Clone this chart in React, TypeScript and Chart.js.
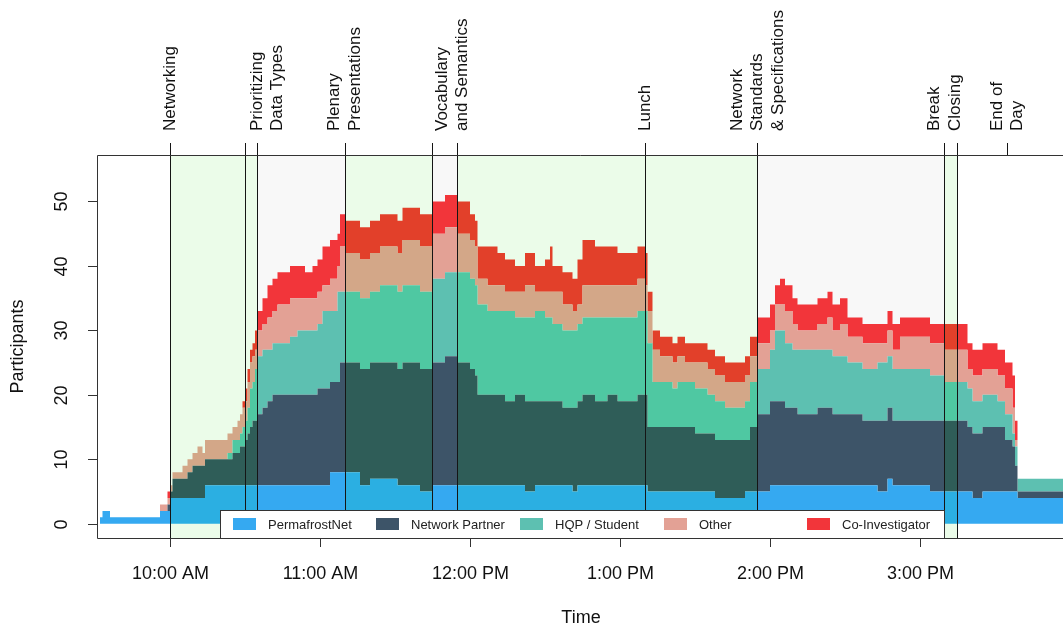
import { useEffect, useRef } from "react";
import { Chart, registerables } from "chart.js";

Chart.register(...registerables);

// Minutes since midnight at which attendance changed
const times = [
  572, 573, 576, 596, 599, 600, 601, 605, 607, 609, 611, 613, 614,
  623, 625, 627, 628, 629, 630, 631, 632, 633, 634, 635, 637, 639,
  641, 643, 648, 651, 654, 657, 659, 661, 664, 667, 668, 670, 676,
  680, 684, 691, 693, 700, 705, 710, 715, 720, 722, 723, 727, 731,
  734, 738, 742, 746, 750, 752, 753, 757, 761, 763, 765, 770, 775,
  779, 787, 790, 791, 793, 796, 801, 803, 806, 810, 815, 818, 822,
  830, 832, 835, 840, 842, 844, 846, 849, 851, 859, 863, 865, 868,
  871, 877, 883, 887, 889, 892, 904, 910, 915, 919, 921, 925, 931,
  934, 937, 938, 939, 958,
];

const permafrostNet = [
  1, 2, 1, 2, 2, 4, 4, 4, 4, 4, 4, 4, 6,
  6, 6, 6, 6, 6, 6, 6, 6, 6, 6, 6, 6, 6,
  6, 6, 6, 6, 6, 6, 6, 6, 8, 8, 8, 8, 6,
  7, 7, 6, 6, 5, 6, 6, 6, 6, 6, 6, 6, 6,
  6, 6, 5, 6, 6, 6, 6, 6, 5, 6, 6, 6, 6,
  6, 6, 6, 5, 5, 5, 5, 5, 5, 5, 5, 4, 4,
  5, 5, 5, 6, 6, 6, 6, 6, 6, 6, 6, 6, 6,
  6, 6, 5, 7, 6, 6, 5, 5, 5, 5, 4, 5, 5,
  5, 5, 5, 4, 4,
];

const networkPartner = [
  0, 0, 0, 0, 1, 1, 3, 3, 4, 5, 5, 5, 4,
  4, 5, 5, 6, 6, 7, 8, 9, 10, 10, 11, 12, 13,
  14, 14, 14, 14, 14, 14, 15, 15, 14, 14, 17, 17, 18,
  18, 18, 18, 19, 19, 19, 20, 19, 18, 17, 14, 14, 14,
  13, 14, 14, 13, 13, 13, 13, 12, 13, 13, 14, 13, 14,
  13, 14, 14, 10, 10, 10, 10, 10, 10, 9, 9, 9, 9,
  8, 10, 12, 13, 13, 13, 12, 12, 11, 12, 12, 11, 11,
  11, 10, 11, 11, 10, 10, 11, 11, 11, 10, 10, 10, 10,
  8, 7, 4, 1, 1,
];

const hqpStudent = [
  0, 0, 0, 0, 0, 0, 0, 0, 0, 0, 0, 0, 0,
  1, 2, 2, 2, 3, 3, 4, 6, 6, 8, 9, 9, 8,
  8, 8, 9, 10, 10, 10, 10, 12, 11, 14, 11, 11, 11,
  11, 12, 12, 12, 12, 13, 13, 14, 14, 14, 14, 13, 13,
  14, 12, 13, 14, 13, 13, 12, 12, 12, 12, 12, 13, 12,
  13, 13, 13, 13, 7, 7, 6, 7, 7, 7, 6, 6, 5,
  6, 7, 7, 8, 11, 11, 10, 9, 10, 9, 9, 9, 9,
  8, 8, 9, 8, 8, 8, 7, 6, 6, 6, 5, 5, 4,
  4, 2, 3, 2, 2,
];

const other = [
  0, 0, 0, 1, 1, 1, 1, 2, 2, 2, 3, 2, 3,
  3, 2, 3, 3, 3, 3, 4, 4, 4, 3, 4, 4, 5,
  5, 6, 6, 5, 5, 5, 5, 4, 5, 4, 7, 6, 6,
  6, 6, 6, 7, 7, 7, 7, 6, 6, 6, 4, 4, 4,
  3, 4, 5, 3, 4, 4, 5, 4, 3, 3, 5, 5, 5,
  5, 5, 4, 5, 5, 4, 4, 4, 3, 4, 4, 4, 4,
  4, 4, 4, 3, 4, 4, 5, 4, 3, 4, 5, 4, 5,
  4, 4, 3, 4, 3, 5, 5, 5, 5, 3, 4, 4, 4,
  4, 4, 1, 0, 0,
];

const coInvestigator = [
  0, 0, 0, 0, 1, 0, 0, 0, 0, 0, 0, 0, 0,
  0, 0, 0, 0, 1, 2, 2, 2, 2, 3, 3, 4, 5,
  5, 5, 5, 5, 4, 5, 5, 6, 6, 5, 5, 5, 5,
  5, 5, 5, 5, 5, 5, 5, 5, 4, 4, 5, 6, 5,
  5, 4, 5, 4, 5, 7, 4, 5, 5, 7, 7, 6, 6,
  5, 5, 5, 3, 3, 3, 3, 3, 3, 3, 3, 3, 3,
  3, 3, 4, 4, 3, 4, 4, 4, 4, 4, 4, 4, 4,
  3, 3, 3, 3, 4, 3, 3, 4, 4, 4, 4, 4, 4,
  4, 5, 3, 0, 0,
];

const seriesNames = ["PermafrostNet", "Network Partner", "HQP / Student", "Other", "Co-Investigator"];
const seriesValues = [permafrostNet, networkPartner, hqpStudent, other, coInvestigator];

// Plain colours, and the same colours as they appear under the green session shading
const baseColors = ["#35A9F1", "#3D5468", "#5DC0B1", "#E3A195", "#F2353A"];
const greenColors = ["#2BAFE2", "#2F5D58", "#4FC8A2", "#D3A788", "#E2402A"];

// Session boundaries (minutes)
const sessionLines = [600, 630, 635, 670, 705, 715, 790, 835, 910, 915];
const endOfDay = 935;
const greenSessions = [[600, 635], [670, 705], [715, 835], [910, 915]];
const greySessions = [[635, 670], [705, 715], [835, 910]];

const sessionLabels = [
  { t: 600, lines: ["Networking"] },
  { t: 639, lines: ["Prioritizing", "Data Types"] },
  { t: 670, lines: ["Plenary", "Presentations"] },
  { t: 713, lines: ["Vocabulary", "and Semantics"] },
  { t: 790, lines: ["Lunch"] },
  { t: 835, lines: ["Network", "Standards", "& Specifications"] },
  { t: 910, lines: ["Break", "Closing"] },
  { t: 935, lines: ["End of", "Day"] },
];

const xTicks = [600, 660, 720, 780, 840, 900];
const xTickLabels = ["10:00 AM", "11:00 AM", "12:00 PM", "1:00 PM", "2:00 PM", "3:00 PM"];
const yTicks = [0, 10, 20, 30, 40, 50];

const FONT = "'Liberation Sans', Arial, Helvetica, sans-serif";

const inGreen = (t: number) => greenSessions.some(([a, b]) => t >= a && t < b);

const sessionShading = {
  id: "sessionShading",
  beforeDatasetsDraw(chart: any) {
    const { ctx, chartArea, scales } = chart;
    const x = scales.x;
    ctx.save();
    ctx.fillStyle = "#FFFFFF";
    ctx.fillRect(chartArea.left, chartArea.top, chartArea.right - chartArea.left, chartArea.bottom - chartArea.top);
    const paint = (bands: number[][], color: string) => {
      ctx.fillStyle = color;
      for (const [a, b] of bands) {
        const x0 = x.getPixelForValue(a);
        const x1 = x.getPixelForValue(b);
        ctx.fillRect(x0, chartArea.top, x1 - x0, chartArea.bottom - chartArea.top);
      }
    };
    paint(greenSessions, "#EBFCE9");
    paint(greySessions, "#F8F8F8");
    ctx.restore();
  },
};

const frame = {
  id: "frame",
  afterDatasetsDraw(chart: any) {
    const { ctx, chartArea, scales } = chart;
    const x = scales.x;
    const y = scales.y;
    const { left, top, bottom } = chartArea;
    const right = chartArea.right + 2;
    ctx.save();

    // session boundaries through the plot
    ctx.strokeStyle = "#151515";
    ctx.lineWidth = 1;
    for (const t of sessionLines) {
      const px = Math.floor(x.getPixelForValue(t)) + 0.5;
      ctx.beginPath();
      ctx.moveTo(px, top - 12);
      ctx.lineTo(px, bottom);
      ctx.stroke();
    }
    {
      const px = Math.floor(x.getPixelForValue(endOfDay)) + 0.5;
      ctx.beginPath();
      ctx.moveTo(px, top - 12);
      ctx.lineTo(px, top);
      ctx.stroke();
    }

    // legend
    const lg = { l: 220, r: 944, t: 510, b: 538 };
    ctx.fillStyle = "#FFFFFF";
    ctx.fillRect(lg.l, lg.t, lg.r - lg.l, lg.b - lg.t);
    ctx.strokeStyle = "#333333";
    ctx.strokeRect(lg.l + 0.5, lg.t + 0.5, lg.r - lg.l, lg.b - lg.t);
    const swatchX = [233, 376, 520, 664, 807];
    ctx.font = `13px ${FONT}`;
    ctx.textBaseline = "middle";
    ctx.textAlign = "left";
    seriesNames.forEach((name, i) => {
      ctx.fillStyle = baseColors[i];
      ctx.fillRect(swatchX[i], 518, 23, 12);
      ctx.fillStyle = "#222222";
      ctx.fillText(name, swatchX[i] + 35, 525);
    });

    // plot box (right side runs off the canvas)
    ctx.strokeStyle = "#333333";
    ctx.lineWidth = 1;
    ctx.beginPath();
    ctx.moveTo(right, Math.round(top) + 0.5);
    ctx.lineTo(Math.round(left) + 0.5, Math.round(top) + 0.5);
    ctx.lineTo(Math.round(left) + 0.5, Math.round(bottom) + 0.5);
    ctx.lineTo(right, Math.round(bottom) + 0.5);
    ctx.stroke();

    // x axis
    ctx.fillStyle = "#111111";
    ctx.font = `18px ${FONT}`;
    ctx.textAlign = "center";
    ctx.textBaseline = "middle";
    xTicks.forEach((t, i) => {
      const px = Math.round(x.getPixelForValue(t)) + 0.5;
      ctx.beginPath();
      ctx.moveTo(px, bottom);
      ctx.lineTo(px, bottom + 9);
      ctx.stroke();
      ctx.fillText(xTickLabels[i], px, 574);
    });
    ctx.fillText("Time", (left + right) / 2, 618);

    // y axis
    yTicks.forEach((v) => {
      const py = Math.round(y.getPixelForValue(v)) + 0.5;
      ctx.beginPath();
      ctx.moveTo(left - 9, py);
      ctx.lineTo(left, py);
      ctx.stroke();
      ctx.save();
      ctx.translate(62, py);
      ctx.rotate(-Math.PI / 2);
      ctx.fillText(String(v), 0, 0);
      ctx.restore();
    });
    ctx.save();
    ctx.translate(18, (top + bottom) / 2);
    ctx.rotate(-Math.PI / 2);
    ctx.fillText("Participants", 0, 0);
    ctx.restore();

    // session names above the plot
    ctx.font = `17px ${FONT}`;
    ctx.textAlign = "left";
    for (const s of sessionLabels) {
      const cx = x.getPixelForValue(s.t);
      const n = s.lines.length;
      s.lines.forEach((line, i) => {
        ctx.save();
        ctx.translate(cx + (i - (n - 1) / 2) * 20.5, 131);
        ctx.rotate(-Math.PI / 2);
        ctx.fillText(line, 0, 0);
        ctx.restore();
      });
    }
    ctx.restore();
  },
};

export default function App() {
  const canvasRef = useRef<HTMLCanvasElement | null>(null);

  useEffect(() => {
    document.body.style.margin = "0";
    const canvas = canvasRef.current;
    if (!canvas) return;

    const datasets = seriesValues.map((vals, k) => ({
      label: seriesNames[k],
      data: times.map((t, i) => ({ x: t, y: vals[i] })),
      backgroundColor: baseColors[k],
      borderColor: "rgba(0,0,0,0)",
      borderWidth: 0,
      pointRadius: 0,
      pointHoverRadius: 0,
      stepped: true,
      tension: 0,
      fill: k === 0 ? "origin" : "-1",
      segment: {
        backgroundColor: (ctx: any) => (inGreen(ctx.p0.parsed.x) ? greenColors[k] : baseColors[k]),
      },
    }));

    const chart = new Chart(canvas, {
      type: "line",
      data: { datasets },
      options: {
        responsive: false,
        animation: false,
        devicePixelRatio: 1,
        events: [],
        layout: { padding: { left: 97, top: 155, right: 0, bottom: 91 } },
        scales: {
          x: { type: "linear", min: 570.8, max: 957.2, display: false },
          y: { type: "linear", stacked: true, min: -2.2, max: 57.2, display: false },
        },
        plugins: {
          legend: { display: false },
          tooltip: { enabled: false },
        },
      },
      plugins: [sessionShading, frame],
    } as any);

    return () => chart.destroy();
  }, []);

  return (
    <div style={{ position: "absolute", left: 0, top: 0, width: 1063, height: 629 }}>
      <canvas ref={canvasRef} width={1063} height={629} style={{ display: "block" }} />
    </div>
  );
}
